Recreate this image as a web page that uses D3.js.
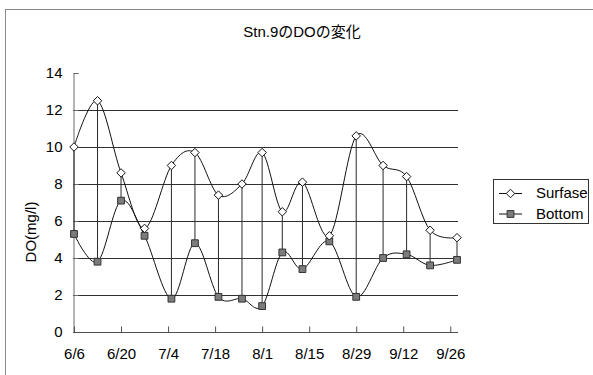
<!DOCTYPE html>
<html>
<head>
<meta charset="utf-8">
<script src="https://cdn.jsdelivr.net/npm/d3@7"></script>
<style>
  html, body { margin: 0; padding: 0; background: #fff; }
  svg { display: block; }
  text { font-family: "Liberation Sans", Arial, "Noto Sans CJK JP", sans-serif; fill: #000; }
</style>
</head>
<body>
<svg id="chart" width="593" height="375"></svg>
<script>
// Survey dates (month/day) and dissolved oxygen readings, mg/l
const sampleDates = ["6/6","6/13","6/20","6/27","7/5","7/12","7/19","7/26","8/1","8/7","8/13","8/21","8/29","9/6","9/13","9/20","9/28"];
const surfaceDO = [10.0,12.5,8.6,5.6,9.0,9.7,7.4,8.0,9.7,6.5,8.1,5.2,10.6,9.0,8.4,5.5,5.1];
const bottomDO  = [5.3,3.8,7.1,5.2,1.8,4.8,1.9,1.8,1.4,4.3,3.4,4.9,1.9,4.0,4.2,3.6,3.9];
const xTickLabels = ["6/6","6/20","7/4","7/18","8/1","8/15","8/29","9/12","9/26"];
const yTickValues = [0,2,4,6,8,10,12,14];
const seriesNames = ["Surfase","Bottom"];
const titleText = "Stn.9のDOの変化";
const yAxisTitle = "DO(mg/l)";

const YEAR = 2005;
const toDate = s => { const [m, d] = s.split("/").map(Number); return new Date(YEAR, m - 1, d); };

const svg = d3.select("#chart");

// chart area frame
svg.append("rect")
  .attr("x", 5.5).attr("y", 9.5).attr("width", 600).attr("height", 400)
  .attr("fill", "#fff").attr("stroke", "#8a8a8a").attr("stroke-width", 1);

const plot = { left: 73, right: 458, top: 73, bottom: 332 };

const x = d3.scaleTime()
  .domain([toDate(sampleDates[0]), toDate(sampleDates[sampleDates.length - 1])])
  .range([plot.left + 1, plot.right - 1]);
const y = d3.scaleLinear().domain([0, 14]).range([plot.bottom, plot.top]);

// horizontal gridlines
svg.append("g")
  .selectAll("line")
  .data(yTickValues.filter(v => v > 0 && v < 14))
  .join("line")
  .attr("x1", plot.left).attr("x2", plot.right)
  .attr("y1", d => Math.round(y(d)) + 0.5).attr("y2", d => Math.round(y(d)) + 0.5)
  .attr("stroke", "#303030").attr("stroke-width", 1);

// y axis with inward ticks
const yAxis = d3.axisLeft(y).tickValues(yTickValues).tickSize(-5).tickPadding(16);
const gy = svg.append("g").attr("transform", `translate(${plot.left + 0.5},0)`).call(yAxis);
gy.select(".domain").attr("stroke", "#6a6a6a");
gy.selectAll(".tick line").attr("stroke", "#6a6a6a");
gy.selectAll(".tick text").attr("font-size", 15).attr("x", -11).style("font-family", "'Liberation Sans', Arial, sans-serif");

// x axis (date), ticks every 14 days pointing up
const xAxis = d3.axisBottom(x)
  .tickValues(xTickLabels.map(toDate))
  .tickFormat((d, i) => xTickLabels[i])
  .tickSize(-6).tickPadding(15);
const gx = svg.append("g").attr("transform", `translate(0,${plot.bottom + 0.5})`).call(xAxis);
gx.select(".domain").attr("stroke", "#505050").attr("d", `M${plot.left},0H${plot.right}`);
gx.selectAll(".tick line").attr("stroke", "#505050");
gx.selectAll(".tick text").attr("font-size", 15).attr("dy", "0.75em").style("font-family", "'Liberation Sans', Arial, sans-serif");

const points = sampleDates.map((s, i) => ({ date: toDate(s), top: surfaceDO[i], bot: bottomDO[i] }));

// high-low lines between surface and bottom readings
svg.append("g")
  .selectAll("line")
  .data(points)
  .join("line")
  .attr("x1", d => x(d.date)).attr("x2", d => x(d.date))
  .attr("y1", d => y(d.top)).attr("y2", d => y(d.bot))
  .attr("stroke", "#2a2a2a").attr("stroke-width", 1);

const smooth = d3.curveCardinal.tension(0);
const lineTop = d3.line().x(d => x(d.date)).y(d => y(d.top)).curve(smooth);
const lineBot = d3.line().x(d => x(d.date)).y(d => y(d.bot)).curve(smooth);

svg.append("path").datum(points).attr("d", lineTop)
  .attr("fill", "none").attr("stroke", "#111").attr("stroke-width", 1);
svg.append("path").datum(points).attr("d", lineBot)
  .attr("fill", "none").attr("stroke", "#111").attr("stroke-width", 1);

const diamond = d3.symbol().type(d3.symbolDiamond2).size(46);
const square = d3.symbol().type(d3.symbolSquare).size(46);

svg.append("g").selectAll("path")
  .data(points).join("path")
  .attr("transform", d => `translate(${x(d.date)},${y(d.bot)})`)
  .attr("d", square)
  .attr("fill", "#7c7c7c").attr("stroke", "#333").attr("stroke-width", 1);

svg.append("g").selectAll("path")
  .data(points).join("path")
  .attr("transform", d => `translate(${x(d.date)},${y(d.top)})`)
  .attr("d", diamond)
  .attr("fill", "#fff").attr("stroke", "#111").attr("stroke-width", 1);

// title
svg.append("text")
  .attr("x", 302).attr("y", 37)
  .attr("text-anchor", "middle").attr("font-size", 15)
  .text(titleText);

// y axis title
svg.append("text")
  .attr("transform", "translate(36,232) rotate(-90)")
  .attr("text-anchor", "middle").attr("font-size", 15)
  .text(yAxisTitle);

// legend
const legend = svg.append("g");
legend.append("rect")
  .attr("x", 493.5).attr("y", 179.5).attr("width", 95).attr("height", 44)
  .attr("fill", "#fff").attr("stroke", "#333").attr("stroke-width", 1);
const legendRows = [
  { name: seriesNames[0], y: 193, sym: diamond, fill: "#fff", stroke: "#111" },
  { name: seriesNames[1], y: 213.5, sym: square, fill: "#7c7c7c", stroke: "#333" }
];
legendRows.forEach(r => {
  legend.append("line")
    .attr("x1", 499).attr("x2", 522).attr("y1", r.y + 0.5).attr("y2", r.y + 0.5)
    .attr("stroke", "#111");
  legend.append("path")
    .attr("transform", `translate(510.5,${r.y + 0.5})`)
    .attr("d", r.sym).attr("fill", r.fill).attr("stroke", r.stroke);
  legend.append("text")
    .attr("x", 536).attr("y", r.y).attr("dy", "0.35em")
    .attr("font-size", 15)
    .text(r.name);
});
</script>
</body>
</html>
